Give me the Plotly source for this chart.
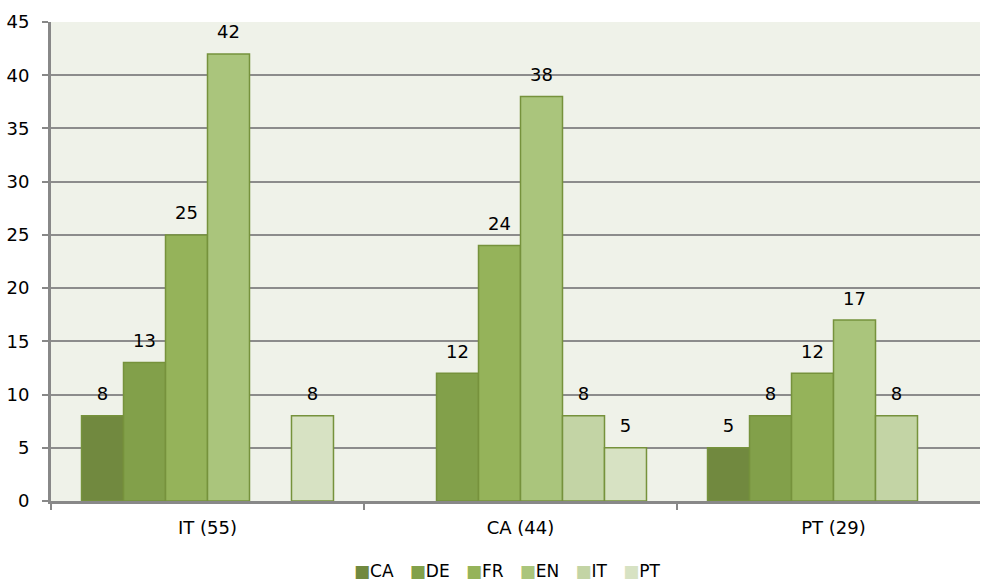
import plotly.graph_objects as go

categories = ["IT (55)", "CA (44)", "PT (29)"]
series_names = ["CA", "DE", "FR", "EN", "IT", "PT"]
ca_vals = [8, None, 5]
de_vals = [13, 12, 8]
fr_vals = [25, 24, 12]
en_vals = [42, 38, 17]
it_vals = [None, 8, 8]
pt_vals = [8, 5, None]
y_ticks = [0, 5, 10, 15, 20, 25, 30, 35, 40, 45]

colors = ["#71893F", "#82A04A", "#95B35A", "#AAC57C", "#C3D4A5", "#D7E2C3"]
all_vals = [ca_vals, de_vals, fr_vals, en_vals, it_vals, pt_vals]

FONT = "Verdana, DejaVu Sans, sans-serif"
fig = go.Figure()
for name, vals, col in zip(series_names, all_vals, colors):
    fig.add_trace(go.Bar(
        name=name, x=categories, y=vals, offsetgroup=name,
        marker=dict(color=col, line=dict(color="#76923C", width=1.5)),
        showlegend=False,
    ))
for name, vals in zip(series_names, all_vals):
    fig.add_trace(go.Scatter(
        x=categories, y=vals, offsetgroup=name, mode="markers+text",
        marker=dict(size=16, color="rgba(0,0,0,0)"),
        text=[str(v) if v is not None else "" for v in vals],
        textposition="top center", cliponaxis=False,
        textfont=dict(family=FONT, size=18, color="#000000"),
        showlegend=False, hoverinfo="skip",
    ))

legend_text = "\u00a0\u00a0\u00a0".join(
    f"<span style='color:{c}'>\u25a0</span>{n}"
    for n, c in zip(series_names, colors)
)
fig.add_annotation(text=legend_text, x=0.491, y=-0.146, xref="paper", yref="paper",
                   xanchor="center", yanchor="middle", showarrow=False,
                   font=dict(family=FONT, size=17, color="#000000"))

fig.update_layout(
    width=981, height=581,
    barmode="group", bargap=0.195, bargroupgap=0,
    scattermode="group", scattergap=0.195,
    plot_bgcolor="#EFF2E9", paper_bgcolor="#FFFFFF",
    margin=dict(l=51, r=1, t=22, b=80),
    font=dict(family=FONT, size=18, color="#000000"),
    showlegend=False,
    xaxis=dict(range=[-0.5, 2.468], showline=True, linecolor="#888888", linewidth=3,
               ticks="outside", tickson="boundaries", ticklen=6, tickcolor="#888888",
               tickwidth=2, ticklabelstandoff=8, automargin=False,
               tickfont=dict(family=FONT, size=18), showgrid=False),
    yaxis=dict(range=[0, 45], tickvals=y_ticks, showline=True, linecolor="#888888",
               linewidth=3, ticks="outside", ticklen=6, tickcolor="#888888", tickwidth=2,
               gridcolor="#8C8C8C", gridwidth=2, zeroline=False, automargin=False,
               ticklabelstandoff=9, tickfont=dict(family=FONT, size=18)),
)
fig.write_html("out.html", config={"displayModeBar": False},
               post_script="document.body.style.margin='0';")
